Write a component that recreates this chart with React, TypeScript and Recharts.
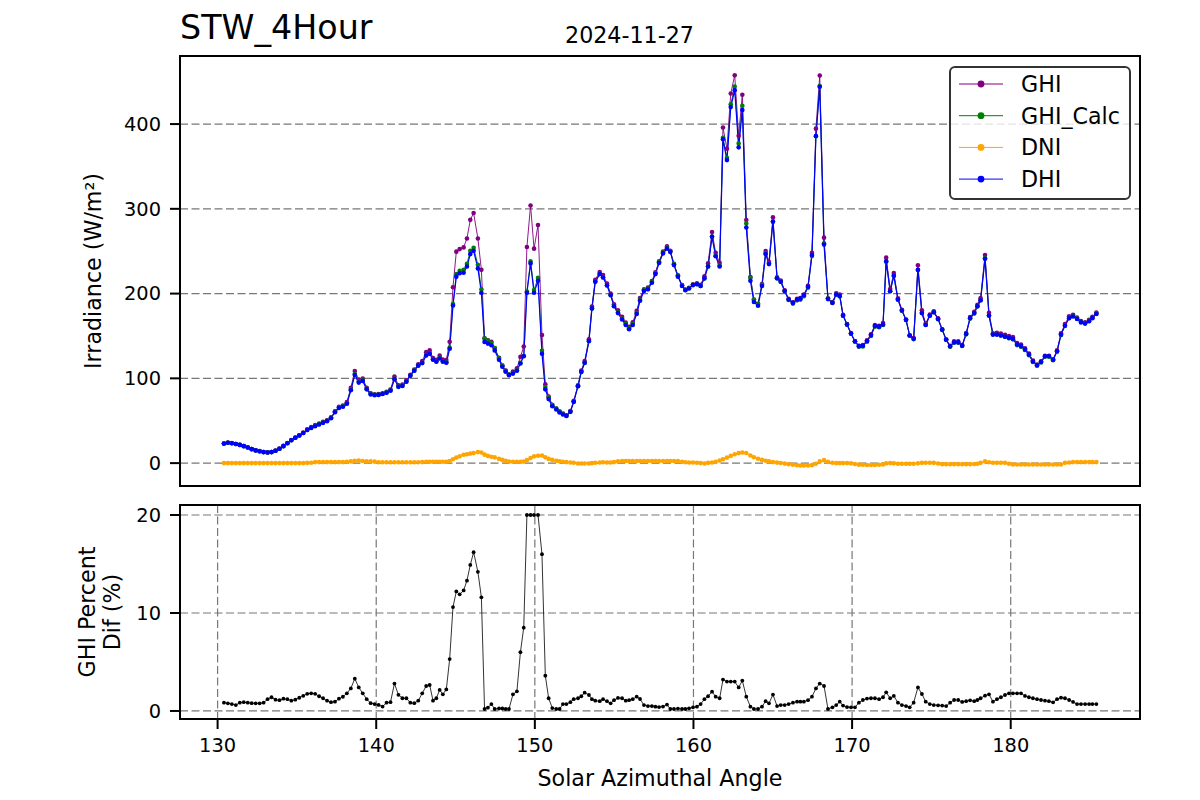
import React from 'react';
import { LineChart, Line, XAxis, YAxis, CartesianGrid, ReferenceArea } from 'recharts';

// solar azimuth of every sample (deg)
const azimuth = [
  130.4, 130.65, 130.9,
  131.15, 131.4, 131.65, 131.9,
  132.15, 132.4, 132.65, 132.9,
  133.15, 133.4, 133.65, 133.9,
  134.15, 134.4, 134.65, 134.9,
  135.15, 135.4, 135.65, 135.9,
  136.15, 136.4, 136.65, 136.9,
  137.15, 137.4, 137.65, 137.9,
  138.15, 138.4, 138.65, 138.9,
  139.15, 139.4, 139.65, 139.9,
  140.15, 140.4, 140.65, 140.9,
  141.15, 141.4, 141.65, 141.9,
  142.15, 142.4, 142.65, 142.9,
  143.15,
  143.37, 143.58, 143.79, 144.0, 144.2, 144.42, 144.63, 144.84, 145.05, 145.26,
  145.51, 145.72, 145.93, 146.14, 146.41, 146.63, 146.83, 147.04, 147.26, 147.47,
  147.74, 147.95, 148.16, 148.37, 148.62, 148.87, 149.09, 149.3, 149.5, 149.73,
  149.95, 150.2, 150.45, 150.66, 150.87, 151.1, 151.35,
  151.56, 151.77, 151.99, 152.24, 152.45, 152.72, 152.93, 153.14, 153.41, 153.6,
  153.81, 154.09, 154.3, 154.55, 154.78, 154.99, 155.24, 155.5, 155.73, 155.94,
  156.17, 156.42, 156.63, 156.88, 157.13, 157.38, 157.6, 157.83, 158.08, 158.33,
  158.54, 158.77, 159.02, 159.28, 159.49, 159.72, 159.97, 160.22, 160.45, 160.69,
  160.92, 161.17, 161.4, 161.65, 161.86, 162.11, 162.35, 162.6, 162.85, 163.08,
  163.33, 163.59, 163.81, 164.07, 164.32, 164.55, 164.76, 165.01, 165.27, 165.5,
  165.75, 166.0, 166.27, 166.53, 166.74, 166.96, 167.22, 167.47, 167.72, 167.96,
  168.23, 168.48, 168.76, 169.0, 169.22, 169.43, 169.68, 169.93, 170.18, 170.43,
  170.68, 170.94, 171.19, 171.44, 171.7, 171.95, 172.15, 172.4, 172.63, 172.89,
  173.14, 173.4, 173.63, 173.88, 174.15, 174.4, 174.64, 174.9, 175.15, 175.42,
  175.68, 175.93, 176.18, 176.43, 176.69, 176.94, 177.19, 177.44, 177.7, 177.9,
  178.1, 178.38, 178.63, 178.88, 179.13, 179.38, 179.64, 179.89, 180.14, 180.4,
  180.65, 180.9, 181.15, 181.4, 181.66, 181.91, 182.16, 182.41, 182.67, 182.92,
  183.17, 183.42, 183.68, 183.93, 184.18, 184.43, 184.69, 184.94, 185.15, 185.4,
];

const ghi = [
  23.2, 24.2, 23.7,
  22.6, 21.7, 20.2, 18.7,
  16.6, 15.1, 14.1, 13.1,
  12.7, 13.2, 14.7, 17.2,
  20.3, 23.8, 27.3, 30.3,
  32.9, 36.1, 39.8, 42.4,
  44.8, 46.7, 48.6, 50.5,
  54, 61.1, 66.3, 68,
  71.9, 88.8, 108.6, 98.5,
  99.8, 88.9, 82.5, 81.3,
  81.4, 82.3, 84.1, 86.7,
  102.2, 91.9, 92.6, 97.7,
  104.3, 110.3, 116.6, 120.5,
  130.9,
  133, 123.9, 121.8, 126.8, 122.2, 121.6, 143.2, 207.5, 249.5, 252.5,
  254.5, 265, 287, 295, 265, 228, 147.2, 145, 143, 135.8,
  124.2, 115.2, 109.1, 104.6, 108, 111.8, 125.3, 137.5, 255, 304,
  253, 281, 151, 93, 78.5, 68.7, 64.5,
  60.7, 58.4, 56.4, 61.4, 73.4, 91.8, 109.2, 120.4, 146.2, 184.7,
  216.4, 225.5, 222, 211.9, 199.9, 187.5, 180.2, 172.7, 165.7, 160.7,
  166, 179.6, 194.8, 205.2, 207, 214.9, 225, 238, 249.5, 255.7,
  250.4, 235, 221.5, 210, 204.8, 206.9, 211.1, 212.1, 210.5, 220.4,
  235.6, 272.6, 248.2, 236.2, 396, 370.9, 436, 457.5, 386.3, 434.6,
  286.9, 219.6, 193, 188, 211.4, 250.2, 237.4, 290, 219.3, 215.4,
  204, 193.8, 189.8, 193.8, 194.7, 198.8, 209.2, 248, 394.6, 457.3,
  266, 194.4, 189.9, 200.2, 198.9, 175, 164, 153.3, 143.8, 138.5,
  139.2, 144.9, 152.1, 163, 162.1, 165.2, 242.4, 205.3, 224.3, 194.3,
  180.8, 169.5, 150.8, 147.5, 233.4, 180.2, 164.7, 175.4, 179.2, 170.8,
  157.9, 145.9, 138.5, 143.6, 143.6, 139.4, 153.4, 172.4, 178.4, 186.8,
  194.6, 245.6, 177.4, 153.2, 153.6, 152.8, 151.5, 150, 148.6, 141.7,
  139.9, 135.4, 129.2, 121, 116.2, 120.1, 126.7, 126.7, 122.5, 133,
  153.1, 164.2, 173.2, 175.1, 171.7, 167.7, 166.2, 169, 172.7, 177.7,
];

const ghiCalc = [
  23, 24, 23.5,
  22.5, 21.5, 20, 18.5,
  16.5, 15, 14, 13,
  12.5, 13, 14.5, 17,
  20, 23.5, 27, 30,
  32.5, 35.5, 39.1, 41.7,
  44, 46, 48, 50,
  53.5, 60.5, 65.5, 67,
  70.6, 86.8, 105.1, 96.2,
  98, 87.8, 81.8, 80.7,
  80.9, 81.9, 83.4, 85.9,
  99.4, 90.4, 91.4, 96.4,
  103.4, 109.4, 115.4, 118.4,
  127.6,
  129.6, 122.6, 120.2, 124.1, 120.2, 119, 136, 187.8, 223, 227,
  228, 235, 250.5, 254, 234, 205, 147, 144.5, 142, 135.7,
  124, 115, 109, 104.5, 106.2, 109.6, 118.2, 126.7, 202.4, 238,
  204.2, 218.5, 132.6, 89.8, 77.5, 68.5, 64.4,
  60.7, 58, 56, 60.8, 72.5, 90.6, 107.6, 118.2, 143.8, 182.5,
  214.2, 223.3, 219.4, 209.8, 198.3, 185.5, 177.8, 170.5, 164, 159,
  164, 177, 192.5, 204, 206, 213.8, 224, 237, 248.4, 254,
  250, 234.6, 221, 209.6, 204.4, 206.3, 210.3, 211.2, 209, 217.8,
  232.1, 267.3, 244.6, 233.2, 383.8, 360.1, 423.4, 444.2, 377.2, 421.5,
  282.8, 218.6, 192.8, 187.7, 210.5, 247.7, 235.6, 285.2, 218.2, 214.1,
  202.8, 192.5, 188.2, 192, 192.9, 196.9, 206.9, 244.4, 385.7, 444.8,
  259.4, 194.1, 189.2, 199, 197, 174, 163.4, 152.7, 143.3, 137.3,
  137.7, 143.1, 150.1, 160.9, 160.2, 162.9, 237.9, 202.7, 220.9, 192.7,
  179.7, 168.7, 150.2, 146.3, 227.9, 177.1, 163.2, 174.2, 178.1, 169.8,
  157, 145.2, 137.3, 142, 142, 138.1, 151.9, 170.5, 176.6, 184.7,
  192.1, 241.8, 174.4, 151.8, 151.8, 150.7, 149.1, 147.4, 146, 139.2,
  137.4, 133.4, 127.4, 119.4, 114.8, 118.8, 125.4, 125.4, 121.4, 131.4,
  151, 162.1, 171.3, 173.5, 170.5, 166.5, 165.1, 167.8, 171.5, 176.5,
];

const dni = [
  0, 0, 0,
  0, 0, 0, 0,
  0, 0, 0, 0,
  0, 0, 0, 0,
  0, 0, 0, 0,
  0, 0, 0.3, 0.5,
  1.2, 1.2, 1.2, 1.2,
  1.2, 1.2, 1.2, 1.2,
  1.5, 2, 2.8, 3,
  2.5, 2, 2, 1.8,
  1, 1, 1, 1,
  1, 1, 1, 1,
  1, 1, 1, 1.2,
  1.6,
  1.6, 1.6, 1.6, 1.6, 1.6, 1.6, 2.5, 4.5, 6.5, 8,
  9.8, 10.5, 11.2, 11.8, 13, 12.5, 10, 8.5, 7.5, 6.8,
  5, 3.8, 2.8, 1.8, 1.6, 1.6, 1.6, 1.8, 3.5, 6,
  8, 8.7, 9, 7, 5, 3.8, 2.8,
  2.2, 1.6, 1.2, 0.8, 0.4, -0.4, -0.5, -0.5, -0.4, 0,
  0.4, 0.8, 1, 0.8, 0.8, 1.2, 2, 2.5, 2.5, 2.5,
  2.5, 2.5, 2.5, 2.5, 2.5, 2.5, 2.5, 2.5, 2.5, 2.5,
  2.5, 2.5, 2.5, 1.5, 1, 0.8, 0.8, 0.5, 0, -0.4,
  0.3, 0.8, 1.5, 3, 4.5, 6.5, 8.5, 10.5, 11.8, 12.6,
  12, 9, 7, 5.2, 3.8, 2.8, 2, 1.2, 0.6, 0.2,
  -0.6, -1.2, -2, -2.6, -2.8, -2.8, -2.8, -2.4, -0.8, 2,
  3.5, 1.5, 0.5, 0, 0, 0, 0, -0.3, -1, -1.8,
  -2, -2.2, -2.2, -2.2, -2, -1.5, -0.3, 0, -0.3, -0.8,
  -0.8, -0.8, -0.8, -0.8, -0.3, 0.3, 0.4, 0.4, 0.3, -0.5,
  -1.2, -1.2, -1.2, -1.2, -1.2, -1.2, -1.2, -1.2, -1, -0.8,
  0.3, 2, 1, 0.4, 0.4, 0.4, 0.3, -0.8, -1.6, -1.6,
  -1.6, -1.6, -1.6, -1.6, -1.6, -1.6, -1.6, -1.6, -1.6, -1.6,
  -1.6, 0.3, 0.8, 1.2, 1.2, 1.2, 1.2, 1.2, 1.2, 1.2,
];

const dhi = [
  23, 24, 23.5,
  22.5, 21.5, 20, 18.5,
  16.5, 15, 14, 13,
  12.5, 13, 14.5, 17,
  20, 23.5, 27, 30,
  32.5, 35.5, 39, 41.5,
  43.5, 45.5, 47.5, 49.5,
  53, 60, 65, 66.5,
  70, 86, 104, 95,
  97, 87, 81, 80,
  80.5, 81.5, 83, 85.5,
  99, 90, 91, 96,
  103, 109, 115, 118,
  127,
  129, 122, 119.6, 123.5, 119.6, 118.4, 135, 186, 220, 224,
  224.6, 232, 246.6, 250.5, 229.7, 201, 143, 141, 139, 133,
  122, 113.6, 107.8, 103.8, 105.6, 109, 117.6, 126, 201, 235.6,
  201, 215, 129, 87, 75.5, 67, 63.3,
  59.8, 57.4, 55.5, 60.5, 72.3, 90.8, 107.8, 118.4, 144, 182.5,
  214, 223, 219, 209.5, 198, 185, 177, 169.5, 163, 158,
  163, 176, 191.5, 203, 205, 212.8, 223, 236, 247.4, 253,
  249, 233.6, 220, 209, 204, 206, 210, 211, 209, 218,
  232, 267, 244, 232, 382, 357.5, 420, 440, 372.5, 416.5,
  278, 215, 190, 185.6, 209, 246.6, 234.8, 284.7, 218, 214,
  203, 193, 189, 193, 194, 198, 208, 245.4, 386, 444,
  258, 193.5, 189, 199, 197, 174, 163.4, 152.8, 143.7, 138,
  138.5, 144, 151, 161.8, 161, 163.5, 238, 202.7, 221, 193,
  180, 169, 150.5, 146.6, 228, 177, 163, 174, 178, 170,
  157.5, 145.7, 137.8, 142.5, 142.5, 138.6, 152.4, 171, 177, 185,
  192, 241, 174, 151.6, 151.6, 150.5, 149, 147.7, 146.6, 139.8,
  138, 134, 128, 120, 115.4, 119.4, 126, 126, 122, 132,
  151.6, 162, 171, 173, 170, 166, 164.6, 167.3, 171, 176,
];

// GHI percent difference (%), capped at 20
const ghiPctDif = [
  0.85, 0.78, 0.7,
  0.6, 0.85, 0.9, 0.85,
  0.8, 0.78, 0.78, 0.85,
  1.2, 1.4, 1.15, 1.1,
  1.25, 1.2, 1.05, 1.15,
  1.35, 1.55, 1.75, 1.8,
  1.75, 1.5, 1.3, 1.05,
  0.9, 0.95, 1.25, 1.45,
  1.8, 2.3, 3.3, 2.4,
  1.8, 1.2, 0.8, 0.7,
  0.62, 0.45, 0.85, 0.9,
  2.8, 1.65, 1.3, 1.3,
  0.85, 0.8, 1.05, 1.8,
  2.55,
  2.65, 1.05, 1.3, 2.15, 1.7, 2.2, 5.3, 10.6, 12.2, 11.9,
  12.3, 13.3, 14.9, 16.2, 14.2, 11.6, 0.2, 0.34, 0.7, 0.2,
  0.25, 0.25, 0.2, 0.2, 1.7, 2.0, 6.0, 8.5, 20, 20,
  20, 20, 16, 3.6, 1.3, 0.3, 0.2,
  0.2, 0.7, 0.7, 0.9, 1.2, 1.3, 1.5, 1.87, 1.63, 1.2,
  1.05, 1.0, 1.2, 1.0, 0.78, 1.1, 1.33, 1.3, 1.05, 1.1,
  1.2, 1.46, 1.22, 0.6, 0.5, 0.5, 0.44, 0.4, 0.45, 0.65,
  0.2, 0.2, 0.24, 0.2, 0.2, 0.27, 0.37, 0.44, 0.7, 1.2,
  1.5, 1.97, 1.46, 1.3, 3.2, 3.0, 3.0, 3.0, 2.4, 3.1,
  1.46, 0.44, 0.2, 0.2, 0.44, 1.0, 0.78, 1.67, 0.5, 0.6,
  0.6, 0.7, 0.85, 0.95, 0.95, 0.95, 1.1, 1.46, 2.3, 2.8,
  2.55, 0.2, 0.37, 0.6, 0.95, 0.55, 0.4, 0.37, 0.37, 0.85,
  1.12, 1.26, 1.3, 1.3, 1.2, 1.4, 1.9, 1.3, 1.53, 0.85,
  0.6, 0.5, 0.37, 0.85, 2.4, 1.73, 0.95, 0.7, 0.6, 0.58,
  0.55, 0.5, 0.85, 1.12, 1.12, 0.92, 1.0, 1.09, 1.0, 1.12,
  1.3, 1.56, 1.7, 0.95, 1.2, 1.4, 1.63, 1.8, 1.8, 1.8,
  1.8, 1.53, 1.4, 1.3, 1.2, 1.12, 1.05, 1.0, 0.88, 1.2,
  1.36, 1.3, 1.12, 0.92, 0.7, 0.7, 0.7, 0.7, 0.7, 0.7,
];

const xTicks = [130, 140, 150, 160, 170, 180];
const irrTicks = [0, 100, 200, 300, 400];
const pctTicks = [0, 10, 20];

const series = [
  { key: 'ghi', name: 'GHI', color: '#800080' },
  { key: 'ghiCalc', name: 'GHI_Calc', color: '#008000' },
  { key: 'dni', name: 'DNI', color: '#ffa500' },
  { key: 'dhi', name: 'DHI', color: '#0000ff' },
];

const irrRows = azimuth.map((az, i) => ({
  az,
  ghi: ghi[i],
  ghiCalc: ghiCalc[i],
  dni: dni[i],
  dhi: dhi[i],
}));
const pctRows = azimuth.map((az, i) => ({ az, pct: ghiPctDif[i] }));

const FONT = '"DejaVu Sans", sans-serif';
const X_DOMAIN: [number, number] = [127.63, 188.15];
const IRR_DOMAIN: [number, number] = [-27, 480.3];
const PCT_DOMAIN: [number, number] = [-0.82, 21.02];

const tickText = { fontSize: 19.4, fontFamily: FONT, fill: '#000' };
const tickLine = { stroke: '#000', strokeWidth: 2 };
const grid = { stroke: '#777', strokeWidth: 1.2, strokeDasharray: '8 3.5' };

export default function App() {
  return (
    <div style={{ position: 'absolute', left: 0, top: 0, width: 1200, height: 800, background: '#fff' }}>
      <div style={{ position: 'absolute', left: 0, top: 0 }}>
        <LineChart width={1200} height={500} data={irrRows} margin={{ top: 56, right: 60, bottom: 4, left: 100 }}>
          <CartesianGrid {...grid} />
          <XAxis
            dataKey="az"
            type="number"
            domain={X_DOMAIN}
            ticks={xTicks}
            allowDataOverflow
            height={10}
            tickSize={10}
            tick={false}
            axisLine={false}
            tickLine={tickLine}
          />
          <YAxis
            type="number"
            domain={IRR_DOMAIN}
            ticks={irrTicks}
            allowDataOverflow
            width={80}
            tickSize={10}
            tickMargin={9}
            tick={tickText}
            axisLine={false}
            tickLine={tickLine}
          />
          {series.map((s) => (
            <Line
              key={s.key}
              dataKey={s.key}
              name={s.name}
              type="linear"
              stroke={s.color}
              strokeWidth={s.key === 'dhi' ? 1.2 : 0.9}
              dot={{ r: 2.3, fill: s.color, stroke: 'none' }}
              activeDot={false}
              isAnimationActive={false}
            />
          ))}
          <ReferenceArea
            x1={X_DOMAIN[0]}
            x2={X_DOMAIN[1]}
            y1={IRR_DOMAIN[0]}
            y2={IRR_DOMAIN[1]}
            fill="none"
            stroke="#000"
            strokeWidth={2}
            ifOverflow="visible"
          />
        </LineChart>
      </div>

      <div style={{ position: 'absolute', left: 0, top: 490 }}>
        <LineChart width={1200} height={310} data={pctRows} margin={{ top: 15, right: 60, bottom: 0, left: 100 }}>
          <CartesianGrid {...grid} />
          <XAxis
            dataKey="az"
            type="number"
            domain={X_DOMAIN}
            ticks={xTicks}
            allowDataOverflow
            height={81}
            tickSize={10}
            tickMargin={9}
            tick={tickText}
            axisLine={false}
            tickLine={tickLine}
          />
          <YAxis
            type="number"
            domain={PCT_DOMAIN}
            ticks={pctTicks}
            allowDataOverflow
            width={80}
            tickSize={10}
            tickMargin={9}
            tick={tickText}
            axisLine={false}
            tickLine={tickLine}
          />
          <Line
            dataKey="pct"
            name="GHI Percent Dif"
            type="linear"
            stroke="#000"
            strokeWidth={0.8}
            dot={{ r: 1.9, fill: '#000', stroke: 'none' }}
            activeDot={false}
            isAnimationActive={false}
          />
          <ReferenceArea
            x1={X_DOMAIN[0]}
            x2={X_DOMAIN[1]}
            y1={PCT_DOMAIN[0]}
            y2={PCT_DOMAIN[1]}
            fill="none"
            stroke="#000"
            strokeWidth={2}
            ifOverflow="visible"
          />
        </LineChart>
      </div>

      <svg
        width={1200}
        height={800}
        style={{ position: 'absolute', left: 0, top: 0, pointerEvents: 'none' }}
        fontFamily={FONT}
      >
        <text x={180} y={39} fontSize={33.3} fill="#000">STW_4Hour</text>
        <text x={629.5} y={43} fontSize={22.2} fill="#000" textAnchor="middle">2024-11-27</text>
        <text transform="translate(101,271) rotate(-90)" fontSize={22.2} fill="#000" textAnchor="middle">
          Irradiance (W/m²)
        </text>
        <text transform="translate(95,612) rotate(-90)" fontSize={22.2} fill="#000" textAnchor="middle">
          GHI Percent
        </text>
        <text transform="translate(120,612) rotate(-90)" fontSize={22.2} fill="#000" textAnchor="middle">
          Dif (%)
        </text>
        <text x={660} y={786} fontSize={22.2} fill="#000" textAnchor="middle">Solar Azimuthal Angle</text>

        <rect x={950} y={67} width={180} height={132} rx={5} fill="rgba(255,255,255,0.8)" stroke="#333" strokeWidth={2} />
        {series.map((s, i) => {
          const cy = 84 + i * 31.7;
          return (
            <g key={s.key}>
              <line x1={959} x2={1003} y1={cy} y2={cy} stroke={s.color} strokeWidth={1} />
              <circle cx={981} cy={cy} r={3.4} fill={s.color} />
              <text x={1021} y={cy + 8} fontSize={22.2} fill="#000">{s.name}</text>
            </g>
          );
        })}
      </svg>
    </div>
  );
}
